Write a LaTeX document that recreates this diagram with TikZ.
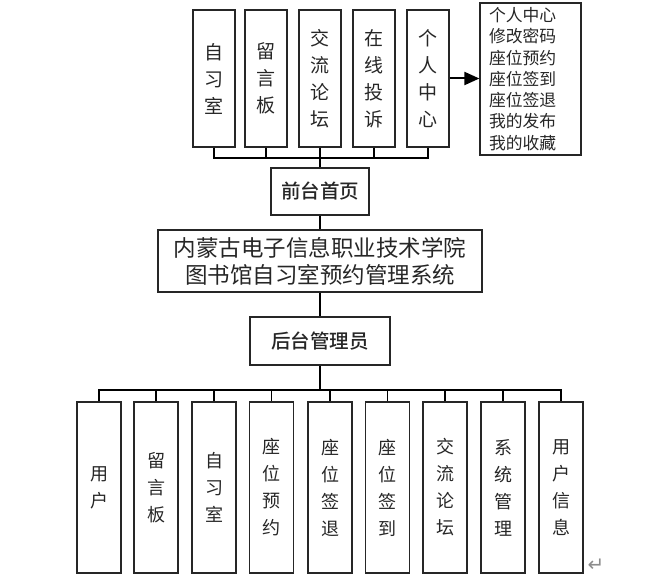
\documentclass[tikz,border=0pt]{standalone}
\usepackage{fontspec}
\newfontfamily\cjk{Noto Sans CJK SC}[BoldFont={Noto Sans CJK SC Medium}]
\newfontfamily\dejavu{DejaVu Sans}
\usetikzlibrary{arrows.meta}
\begin{document}
\begin{tikzpicture}[x=1pt,y=-1pt,
  box/.style={draw=black!85,line width=1.2pt,inner sep=0pt,align=center,text=black!85},
  topbox/.style={box,minimum width=42pt,minimum height=137pt,font=\cjk\fontsize{19}{27}\selectfont},
  botbox/.style={box,minimum width=44pt,minimum height=171pt,font=\cjk\fontsize{18}{27}\selectfont},
  midbox/.style={box,font=\cjk\bfseries\fontsize{19.5}{24}\selectfont},
  conn/.style={draw=black,line width=1.5pt}]
\useasboundingbox (0,0) rectangle (648,577);
% top boxes
\node[topbox] (t1) at (214,78.5) {自\\习\\室};
\node[topbox] (t2) at (266,78.5) {留\\言\\板};
\node[topbox] (t3) at (320,78.5) {交\\流\\论\\坛};
\node[topbox] (t4) at (374,78.5) {在\\线\\投\\诉};
\node[topbox] (t5) at (428,78.5) {个\\人\\中\\心};
% list box
\node[box,text width=83pt,inner xsep=9pt,minimum height=152pt,font=\cjk\fontsize{16.8}{21.3}\selectfont,align=left] (list) at (530.5,79)
  {个人中心\\修改密码\\座位预约\\座位签到\\座位签退\\我的发布\\我的收藏};
\draw[line width=2pt,-{Triangle[length=15pt,width=13pt]}] (t5.east) -- (t5.east -| list.west);
% front page
\node[midbox,minimum width=98pt,minimum height=47pt] (front) at (320,191.5) {前台首页};
\coordinate (topbus) at (320,158);
\draw[conn] (t1.south) |- (topbus) -| (t5.south);
\foreach \i in {2,3,4} \draw[conn] (t\i.south) -- (t\i.south |- topbus);
\draw[conn] (t3.south) -- (front.north);
% main system box
\node[box,minimum width=324pt,minimum height=62pt,font=\cjk\fontsize{22.5}{27}\selectfont] (main) at (320,261)
  {内蒙古电子信息职业技术学院\\图书馆自习室预约管理系统};
\draw[conn] (front.south) -- (main.north);
% admin
\node[midbox,minimum width=140pt,minimum height=48pt] (admin) at (320,341) {后台管理员};
\draw[conn] (main.south) -- (admin.north);
% bottom boxes
\node[botbox] (b1) at (99,487.5) {用\\户};
\node[botbox] (b2) at (156,487.5) {留\\言\\板};
\node[botbox] (b3) at (214,487.5) {自\\习\\室};
\node[botbox] (b4) at (271.5,487.5) {座\\位\\预\\约};
\node[botbox] (b5) at (330,487.5) {座\\位\\签\\退};
\node[botbox] (b6) at (387.5,487.5) {座\\位\\签\\到};
\node[botbox] (b7) at (445,487.5) {交\\流\\论\\坛};
\node[botbox] (b8) at (503,487.5) {系\\统\\管\\理};
\node[botbox] (b9) at (561,487.5) {用\\户\\信\\息};
\coordinate (botbus) at (320,390);
\draw[conn] (admin.south) -- (botbus);
\draw[conn] (b1.north) |- (botbus) -| (b9.north);
\foreach \i in {2,...,8} \draw[conn] (b\i.north) -- (b\i.north |- botbus);
% paragraph mark
\node[font=\dejavu\fontsize{20}{20}\selectfont,text=black!45,inner sep=0pt] (pm) at (596,565) {↵};
\end{tikzpicture}
\end{document}
